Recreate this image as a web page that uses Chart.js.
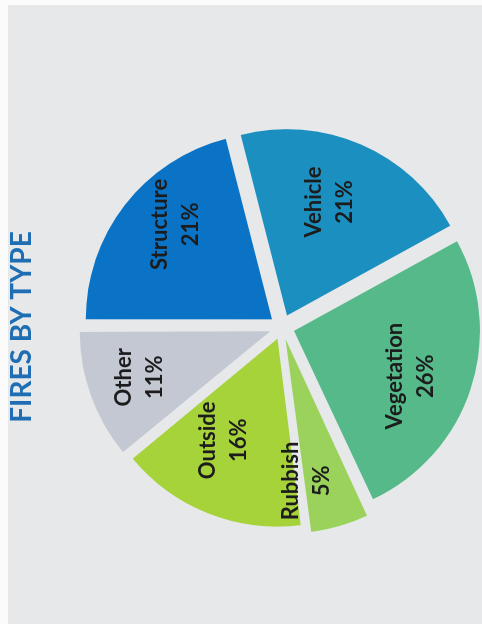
<!DOCTYPE html>
<html>
<head>
<meta charset="utf-8">
<script src="https://cdn.jsdelivr.net/npm/chart.js@4"></script>
<style>
  html, body { margin: 0; padding: 0; background: #fbfbfb; }
  body { width: 482px; height: 624px; overflow: hidden; position: relative; }
  /* the scanned page is turned on its side, so the chart is drawn upright and rotated */
  #wrap {
    position: absolute; left: 0; top: 0;
    width: 619px; height: 474px;
    background: #e6e8e9;
    transform-origin: 0 0;
    transform: translate(8px, 624px) rotate(-90deg);
  }
</style>
</head>
<body>
<div id="wrap"><canvas id="fireChart" width="619" height="474"></canvas></div>
<script>
const categories = ["Structure", "Vehicle", "Vegetation", "Rubbish", "Outside", "Other"];
const shares = [21, 21, 26, 5, 16, 11];
const sliceColors = ["#0b73c6", "#1b8fc0", "#55b98a", "#9bd25c", "#a6d23a", "#c4c8d2"];

// label placement inside each slice: fraction of radius, and a small turn (degrees) off the middle
const labelDepth = [0.73, 0.65, 0.67, 0.77, 0.62, 0.75];
const labelTurn = [6, -3, 3, 7.5, 6, 0.5];

// Draw "name / xx%" inside each slice
const sliceLabels = {
    id: "sliceLabels",
    afterDatasetsDraw(chart) {
        const ctx = chart.ctx;
        const meta = chart.getDatasetMeta(0);
        const total = shares.reduce((a, b) => a + b, 0);
        ctx.save();
        ctx.fillStyle = "#1c1c1c";
        ctx.font = "bold 22px Lato";
        ctx.textAlign = "center";
        ctx.textBaseline = "middle";
        meta.data.forEach((arc, i) => {
            const p = arc.getProps(["x", "y", "startAngle", "endAngle", "outerRadius"], true);
            const mid = (p.startAngle + p.endAngle) / 2 + labelTurn[i] * Math.PI / 180;
            const shift = (arc.options.offset || 0) / 4;
            const r = shift + p.outerRadius * labelDepth[i];
            const x = p.x + Math.cos(mid) * r;
            const y = p.y + Math.sin(mid) * r;
            const pct = Math.round(shares[i] / total * 100) + "%";
            ctx.fillText(categories[i], x, y - 15);
            ctx.fillText(pct, x, y + 16);
        });
        ctx.restore();
    }
};

const ctx = document.getElementById("fireChart").getContext("2d");

new Chart(ctx, {
    type: "pie",
    data: {
        labels: categories,
        datasets: [{
            data: shares,
            backgroundColor: sliceColors,
            borderWidth: 0,
            offset: 50
        }]
    },
    options: {
        responsive: false,
        animation: false,
        devicePixelRatio: 1,
        radius: 186,
        layout: { padding: { left: 0, right: 25, top: 0, bottom: 26 } },
        plugins: {
            legend: { display: false },
            tooltip: { enabled: false },
            title: {
                display: true,
                text: "FIRES BY TYPE",
                color: "#1f6db3",
                font: { family: "Lato", size: 28, weight: "bold", lineHeight: 1 },
                padding: { top: 0, bottom: 72 }
            }
        }
    },
    plugins: [sliceLabels]
});
</script>
</body>
</html>
